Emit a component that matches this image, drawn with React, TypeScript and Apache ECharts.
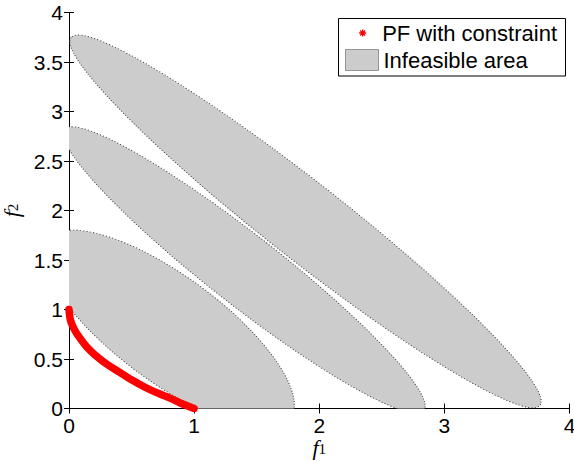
import React, { useEffect, useRef } from "react";
import * as echarts from "echarts";

// Pareto front points (f1, f2)
const pfF1 = [0, 0.01, 0.03, 0.06, 0.1, 0.15, 0.2, 0.3, 0.4, 0.5, 0.6, 0.7, 0.8, 0.9, 1.0];
const pfF2 = [1.0, 0.9, 0.83, 0.76, 0.69, 0.61, 0.55, 0.45, 0.37, 0.29, 0.22, 0.16, 0.11, 0.05, 0];

// Infeasible elliptical areas
const areaCenterF1 = [0.8, 1.4, 1.89];
const areaCenterF2 = [0.8, 1.4, 1.89];
const areaSemiMajor = [1.33, 2.02, 2.64];
const areaSemiMinor = [0.485, 0.32, 0.35];
const areaTiltDeg = [-45, -45, -45];

// Axes
const f1Min = 0, f1Max = 4, f1Step = 1;
const f2Min = 0, f2Max = 4, f2Step = 0.5;

const SERIES_PF = "PF with constraint";
const SERIES_AREA = "Infeasible area";

const SANS = "'Liberation Sans', Arial, Helvetica, sans-serif";
const SERIF = "'Liberation Serif', 'DejaVu Serif', serif";
const ASTERISK = "path://M5,0L5,10M0,5L10,5M1.5,1.5L8.5,8.5M8.5,1.5L1.5,8.5";

export default function App() {
  const ref = useRef<HTMLDivElement>(null);

  useEffect(() => {
    document.body.style.margin = "0";
    if (!ref.current) return;
    const chart = echarts.init(ref.current, undefined, { renderer: "svg" });

    const pfData = pfF1.map((v, i) => [v, pfF2[i]]);
    const areaData = areaCenterF1.map((v, i) => [
      v,
      areaCenterF2[i],
      areaSemiMajor[i],
      areaSemiMinor[i],
      areaTiltDeg[i],
    ]);

    const tickCommon = {
      axisLine: { show: true, lineStyle: { color: "#000", width: 1 } },
      axisTick: { show: true, inside: true, length: 5, lineStyle: { color: "#000", width: 1 } },
      splitLine: { show: false },
    };

    const nameRich = (sub: string) => ({
      name: `{f|f}{s|${sub}}`,
      nameTextStyle: {
        lineHeight: 18,
        rich: {
          f: { fontFamily: SERIF, fontStyle: "italic", fontSize: 22, color: "#000", lineHeight: 18 },
          s: {
            fontFamily: SERIF,
            fontSize: 15,
            color: "#000",
            lineHeight: 18,
            verticalAlign: "bottom",
          },
        },
      },
    });

    const option: any = {
      animation: false,
      backgroundColor: "#fff",
      grid: {
        left: 69,
        right: 4.5,
        top: 12.5,
        bottom: 53.5,
        containLabel: false,
        outerBoundsMode: "none",
      },
      xAxis: [
        {
          type: "value",
          min: f1Min,
          max: f1Max,
          interval: f1Step,
          position: "bottom",
          ...tickCommon,
          axisLabel: { color: "#000", fontSize: 21, fontFamily: SANS, margin: 6 },
          nameLocation: "middle",
          nameGap: 30,
          nameMoveOverlap: false,
          ...nameRich("1"),
        },
        {
          type: "value",
          min: f1Min,
          max: f1Max,
          interval: f1Step,
          position: "top",
          ...tickCommon,
          axisLabel: { show: false },
        },
      ],
      yAxis: [
        {
          type: "value",
          min: f2Min,
          max: f2Max,
          interval: f2Step,
          position: "left",
          ...tickCommon,
          axisLabel: { color: "#000", fontSize: 21, fontFamily: SANS, margin: 6 },
          nameLocation: "middle",
          nameGap: 48,
          ...nameRich("2"),
        },
        {
          type: "value",
          min: f2Min,
          max: f2Max,
          interval: f2Step,
          position: "right",
          ...tickCommon,
          axisLabel: { show: false },
        },
      ],
      legend: [
        {
          data: [
            {
              name: SERIES_PF,
              icon: ASTERISK,
              itemStyle: { color: "#ff0000", borderColor: "#ff0000", borderWidth: 1.3 },
            },
          ],
          left: 358.5,
          top: 22,
          padding: 0,
          itemWidth: 7,
          itemHeight: 7,
          itemGap: 0,
          selectedMode: false,
          textStyle: {
            fontSize: 22,
            fontFamily: SANS,
            color: "#000",
            padding: [0, 0, 0, 11],
          },
        },
        {
          data: [
            {
              name: SERIES_AREA,
              icon: "rect",
              itemStyle: {
                color: "#cccccc",
                borderColor: "#444",
                borderWidth: 1,
                borderType: "dotted",
              },
            },
          ],
          left: 345,
          top: 49,
          padding: 0,
          itemWidth: 33,
          itemHeight: 21,
          itemGap: 0,
          selectedMode: false,
          textStyle: { fontSize: 22, fontFamily: SANS, color: "#000" },
        },
      ],
      graphic: [
        {
          type: "rect",
          z: 3,
          shape: { x: 338.5, y: 18.5, width: 227, height: 57.5 },
          style: { fill: "#fff", stroke: "#000", lineWidth: 1 },
        },
      ],
      series: [
        {
          name: SERIES_AREA,
          type: "custom",
          xAxisIndex: 0,
          yAxisIndex: 0,
          clip: true,
          data: areaData,
          z: 2,
          renderItem: (_params: any, api: any) => {
            const c = api.coord([api.value(0), api.value(1)]);
            const s = api.size([1, 1]);
            return {
              type: "group",
              x: c[0],
              y: c[1],
              scaleX: s[0],
              scaleY: s[1],
              children: [
                {
                  type: "ellipse",
                  shape: { cx: 0, cy: 0, rx: api.value(2), ry: api.value(3) },
                  rotation: (api.value(4) * Math.PI) / 180,
                  style: {
                    fill: "#cccccc",
                    stroke: "#3a3a3a",
                    lineWidth: 1,
                    lineDash: [1, 2],
                    strokeNoScale: true,
                  },
                },
              ],
            };
          },
        },
        {
          name: SERIES_PF,
          type: "line",
          xAxisIndex: 0,
          yAxisIndex: 0,
          data: pfData,
          smooth: 0.2,
          showSymbol: false,
          z: 3,
          itemStyle: { color: "#ff0000" },
          lineStyle: { color: "#ff0000", width: 7.5, cap: "round", join: "round" },
        },
      ],
    };

    chart.setOption(option);
    return () => chart.dispose();
  }, []);

  return <div ref={ref} style={{ width: 574, height: 462 }} />;
}
